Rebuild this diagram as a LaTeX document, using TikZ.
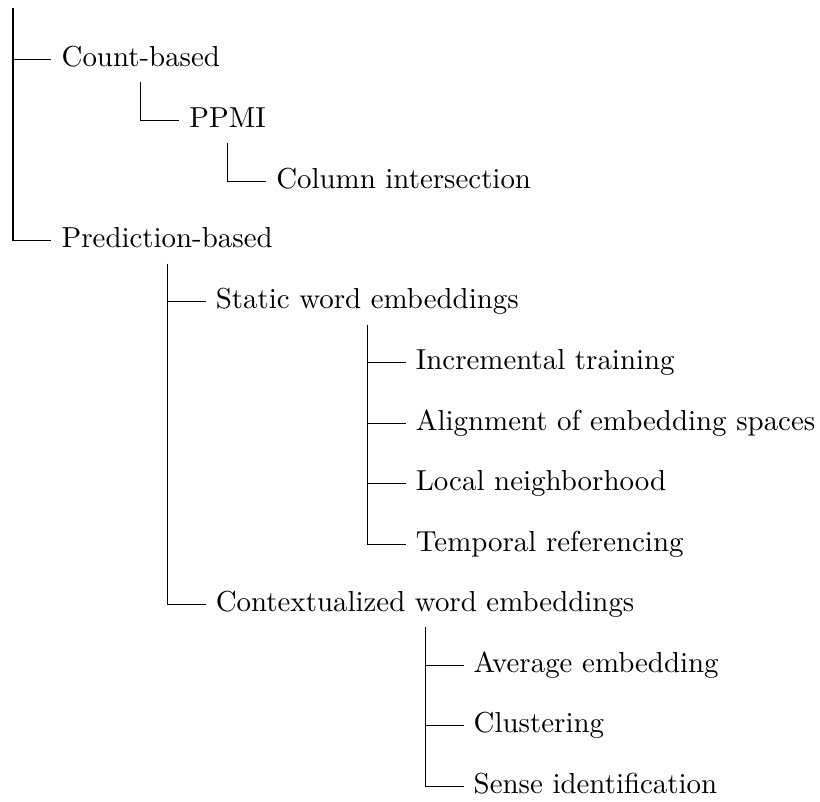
\documentclass[tikz,border=0pt]{standalone}
\begin{document}
\begin{tikzpicture}[item/.style={anchor=west,inner sep=3.33pt,text height=6.9pt,text depth=1.9pt}]
\useasboundingbox (0,0) rectangle (283.7pt,-277.2pt);
\coordinate (root) at (4.5pt,-2.8pt);
\node[item] (cb) at ([xshift=13.3pt,yshift=-17.65pt]root) {Count-based};
\node[item] (ppmi) at ([xshift=13.3pt,yshift=-13.2pt]cb.south) {PPMI};
\node[item] (col) at ([xshift=13.3pt,yshift=-13.2pt]ppmi.south) {Column intersection};
\node[item] (pred) at ([yshift=-62.8pt]cb.west) {Prediction-based};
\node[item] (stat) at ([xshift=13.3pt,yshift=-13.2pt]pred.south) {Static word embeddings};
\node[item] (inc) at ([xshift=13.3pt,yshift=-13.2pt]stat.south) {Incremental training};
\node[item] (algn) at ([yshift=-20.93pt]inc.west) {Alignment of embedding spaces};
\node[item] (local) at ([yshift=-20.93pt]algn.west) {Local neighborhood};
\node[item] (temp) at ([yshift=-20.93pt]local.west) {Temporal referencing};
\node[item] (ctx) at ([yshift=-104.65pt]stat.west) {Contextualized word embeddings};
\node[item] (avg) at ([xshift=13.3pt,yshift=-13.2pt]ctx.south) {Average embedding};
\node[item] (clust) at ([yshift=-20.93pt]avg.west) {Clustering};
\node[item] (sense) at ([yshift=-20.93pt]clust.west) {Sense identification};
% tree lines
\foreach \c in {cb,pred} \draw (root) |- (\c.west);
\draw (cb.south) |- (ppmi.west);
\draw (ppmi.south) |- (col.west);
\foreach \c in {stat,ctx} \draw (pred.south) |- (\c.west);
\foreach \c in {inc,algn,local,temp} \draw (stat.south) |- (\c.west);
\foreach \c in {avg,clust,sense} \draw (ctx.south) |- (\c.west);
\end{tikzpicture}
\end{document}
